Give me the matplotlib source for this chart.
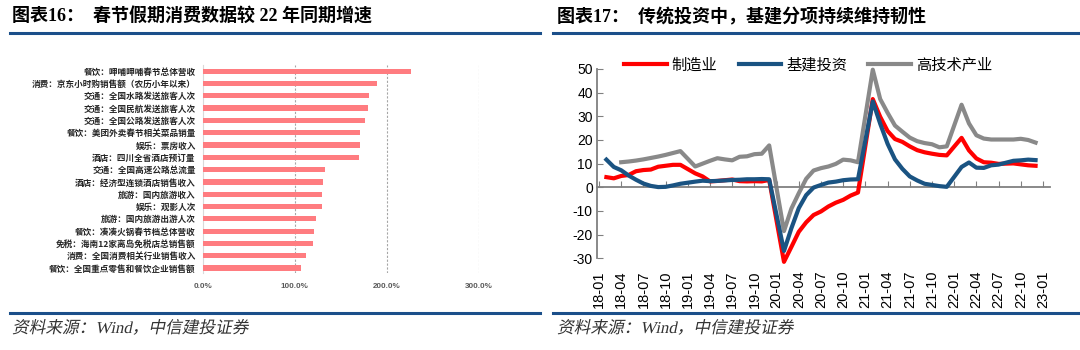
import matplotlib.pyplot as plt
import numpy as np
from matplotlib.lines import Line2D
from matplotlib.textpath import TextPath
from matplotlib.patches import PathPatch
from matplotlib.font_manager import FontProperties
from matplotlib.transforms import Affine2D

plt.rcParams['font.family'] = ['Liberation Sans', 'Noto Sans CJK SC']
plt.rcParams['axes.unicode_minus'] = False

# 图表16 数据
cats = ['餐饮：呷哺呷哺春节总体营收', '消费：京东小时购销售额（农历小年以来）',
        '交通：全国水路发送旅客人次', '交通：全国民航发送旅客人次',
        '交通：全国公路发送旅客人次', '餐饮：美团外卖春节相关菜品销量',
        '娱乐：票房收入', '酒店：四川全省酒店预订量', '交通：全国高速公路总流量',
        '酒店：经济型连锁酒店销售收入', '旅游：国内旅游收入', '娱乐：观影人次',
        '旅游：国内旅游出游人次', '餐饮：凑凑火锅春节档总体营收',
        '免税：海南12家离岛免税店总销售额', '消费：全国消费相关行业销售收入',
        '餐饮：全国重点零售和餐饮企业销售额']
growth = [225.8, 189.6, 180.2, 179.5, 175.9, 171.2, 170.8, 169.7, 132.5,
          130.3, 129.9, 129.9, 123.0, 120.5, 120.1, 111.8, 106.4]
pct_ticks = [0, 100, 200, 300]

# 图表17 数据 (累计同比, 无1月数据)
months = [f'{y}-{m:02d}' for y in range(18, 23) for m in range(2, 13)]
manuf = [4.3, 3.8, 4.8, 5.2, 6.8, 7.3, 7.5, 8.7, 9.1, 9.5, 9.5,
         5.9, 4.6, 2.5, 2.7, 3.0, 3.3, 2.6, 2.5, 2.6, 2.5, 3.1,
         -31.5, -25.2, -18.8, -14.8, -11.7, -10.2, -8.1, -6.5, -5.3, -3.5, -2.2,
         37.3, 29.8, 23.8, 20.4, 19.2, 17.3, 15.7, 14.8, 14.2, 13.7, 13.5,
         20.9, 15.6, 12.2, 10.6, 10.4, 9.9, 10.0, 10.1, 9.7, 9.3, 9.1]
infra = [11.7, 8.6, 7.2, 5.0, 3.2, 1.6, 0.6, 0.1, 0.2, 0.8, 1.5,
         2.4, 2.8, 2.6, 2.7, 2.9, 3.1, 3.2, 3.4, 3.4, 3.5, 3.4,
         -26.9, -17.3, -8.8, -3.3, -0.1, 1.0, 2.0, 2.4, 3.0, 3.3, 3.4,
         36.3, 26.9, 18.4, 11.8, 7.8, 4.6, 2.9, 1.5, 1.0, 0.5, 0.2,
         8.6, 10.5, 8.3, 8.2, 9.3, 9.6, 10.4, 11.2, 11.4, 11.7, 11.5]
hitech = [np.nan, np.nan, 10.6, 10.9, 11.3, 11.8, 12.4, 13.0, 13.7, 14.5, 15.3,
          8.8, 10.0, 11.2, 12.3, 11.8, 11.4, 12.9, 13.1, 14.0, 14.2, 17.7,
          -18.5, -9.0, -2.5, 3.6, 7.1, 8.1, 8.8, 9.9, 11.7, 11.4, 10.6,
          49.7, 37.3, 31.5, 26.1, 23.5, 21.0, 19.5, 18.7, 18.2, 16.9, 17.3,
          34.9, 27.0, 22.0, 20.6, 20.2, 20.2, 20.2, 20.2, 20.5, 20.0, 18.9]
tick_labels = [f'{y}-{m:02d}' for y in range(18, 24) for m in (1, 4, 7, 10)][:21]


def month_index(label):
    yy, mm = label.split('-')
    return (int(yy) - 18) * 12 + int(mm) - 1


W, H = 1080, 350
fig = plt.figure(figsize=(10.8, 3.5), dpi=100)

# ---- 标题、分隔线、来源
serif_cjk = ['Liberation Serif', 'Noto Sans CJK SC']
fig.text(12 / W, 1 - 17 / H, '图表16：  春节假期消费数据较 22 年同期增速',
         family=serif_cjk, weight='bold', fontsize=13, va='center')
fig.text(557 / W, 1 - 17 / H, '图表17：  传统投资中，基建分项持续维持韧性',
         family=serif_cjk, weight='bold', fontsize=13, va='center')
for x0, x1 in [(10, 540), (553, 1080)]:
    for yy in (33, 313):
        fig.add_artist(Line2D([x0 / W, x1 / W], [1 - yy / H] * 2,
                              color='#1b4f8a', lw=2.2))

# 来源 (斜体, 用倾斜的文字路径)
src_fp = FontProperties(family=serif_cjk, size=12)
for x0 in (12, 557):
    tp = TextPath((0, 0), '资料来源：Wind，中信建投证券', prop=src_fp)
    tr = Affine2D().skew_deg(12, 0).scale(1 / 72).translate(x0 / 100, (H - 333) / 100)
    fig.add_artist(PathPatch(tp, transform=tr + fig.dpi_scale_trans,
                             color='#333333', lw=0))

# ---- 左图
ax1 = fig.add_axes([202.7 / W, 1 - 273 / H, 276.3 / W, 208 / H])
pos = np.arange(len(cats))
ax1.barh(pos, growth, height=0.42, color='#FF7C80', zorder=3)
ax1.set_ylim(len(cats) - 0.6, -0.5)
ax1.set_xlim(0, 300)
ax1.set_xticks(pct_ticks)
ax1.set_xticklabels([f'{v:.1f}%' for v in pct_ticks], fontsize=5.8,
                    weight='bold', color='#595959')
ax1.set_yticks(pos)
ax1.set_yticklabels(cats, family=['Noto Sans CJK SC'], fontsize=6.2,
                    weight='bold', color='#262626')
ax1.tick_params(axis='both', length=0)
ax1.tick_params(axis='x', pad=7)
ax1.tick_params(axis='y', pad=5)
for v in pct_ticks[1:]:
    ax1.axvline(v, color='#A6A6A6', lw=0.8, ls=(0, (2, 1.5)), zorder=1)
for s in ['top', 'right', 'bottom']:
    ax1.spines[s].set_visible(False)
ax1.spines['left'].set_color('#D9D9D9')

# ---- 右图
ax2 = fig.add_axes([597 / W, 1 - 258.3 / H, 453 / W, 189.3 / H])
xs = [month_index(m) for m in months]
ax2.plot(xs, manuf, color='#FF0000', lw=3, label='制造业', clip_on=False, zorder=3)
ax2.plot(xs, infra, color='#1A5382', lw=3, label='基建投资', clip_on=False, zorder=4)
ax2.plot(xs, hitech, color='#898989', lw=3, label='高技术产业', clip_on=False, zorder=2)
ax2.set_ylim(-30, 50)
ax2.set_yticks(range(-30, 51, 10))
ax2.set_xlim(-0.27, 60.95)
tick_pos = [month_index(t) for t in tick_labels]
ax2.set_xticks(tick_pos)
ax2.tick_params(axis='x', direction='in', length=4, color='#808080',
                labelbottom=False)
ax2.tick_params(axis='y', direction='in', length=4, color='#808080',
                labelsize=10, pad=3)
ax2.spines['bottom'].set_position(('data', 0))
for s in ['left', 'bottom']:
    ax2.spines[s].set_color('#808080')
    ax2.spines[s].set_linewidth(1.3)
for s in ['top', 'right']:
    ax2.spines[s].set_visible(False)

sec = ax2.secondary_xaxis('bottom')
sec.set_xticks(tick_pos)
sec.set_xticklabels(tick_labels, rotation=90, fontsize=10.5)
sec.tick_params(length=0, pad=9)
sec.spines['bottom'].set_visible(False)

ax2.legend(ncol=3, loc='center', bbox_to_anchor=(808 / W, 1 - 65 / H),
           bbox_transform=fig.transFigure, frameon=False, handlelength=2.8,
           columnspacing=1.4, handletextpad=0.3,
           prop={'family': 'Noto Sans CJK SC', 'size': 11})

fig.savefig('out.png', dpi=100)
